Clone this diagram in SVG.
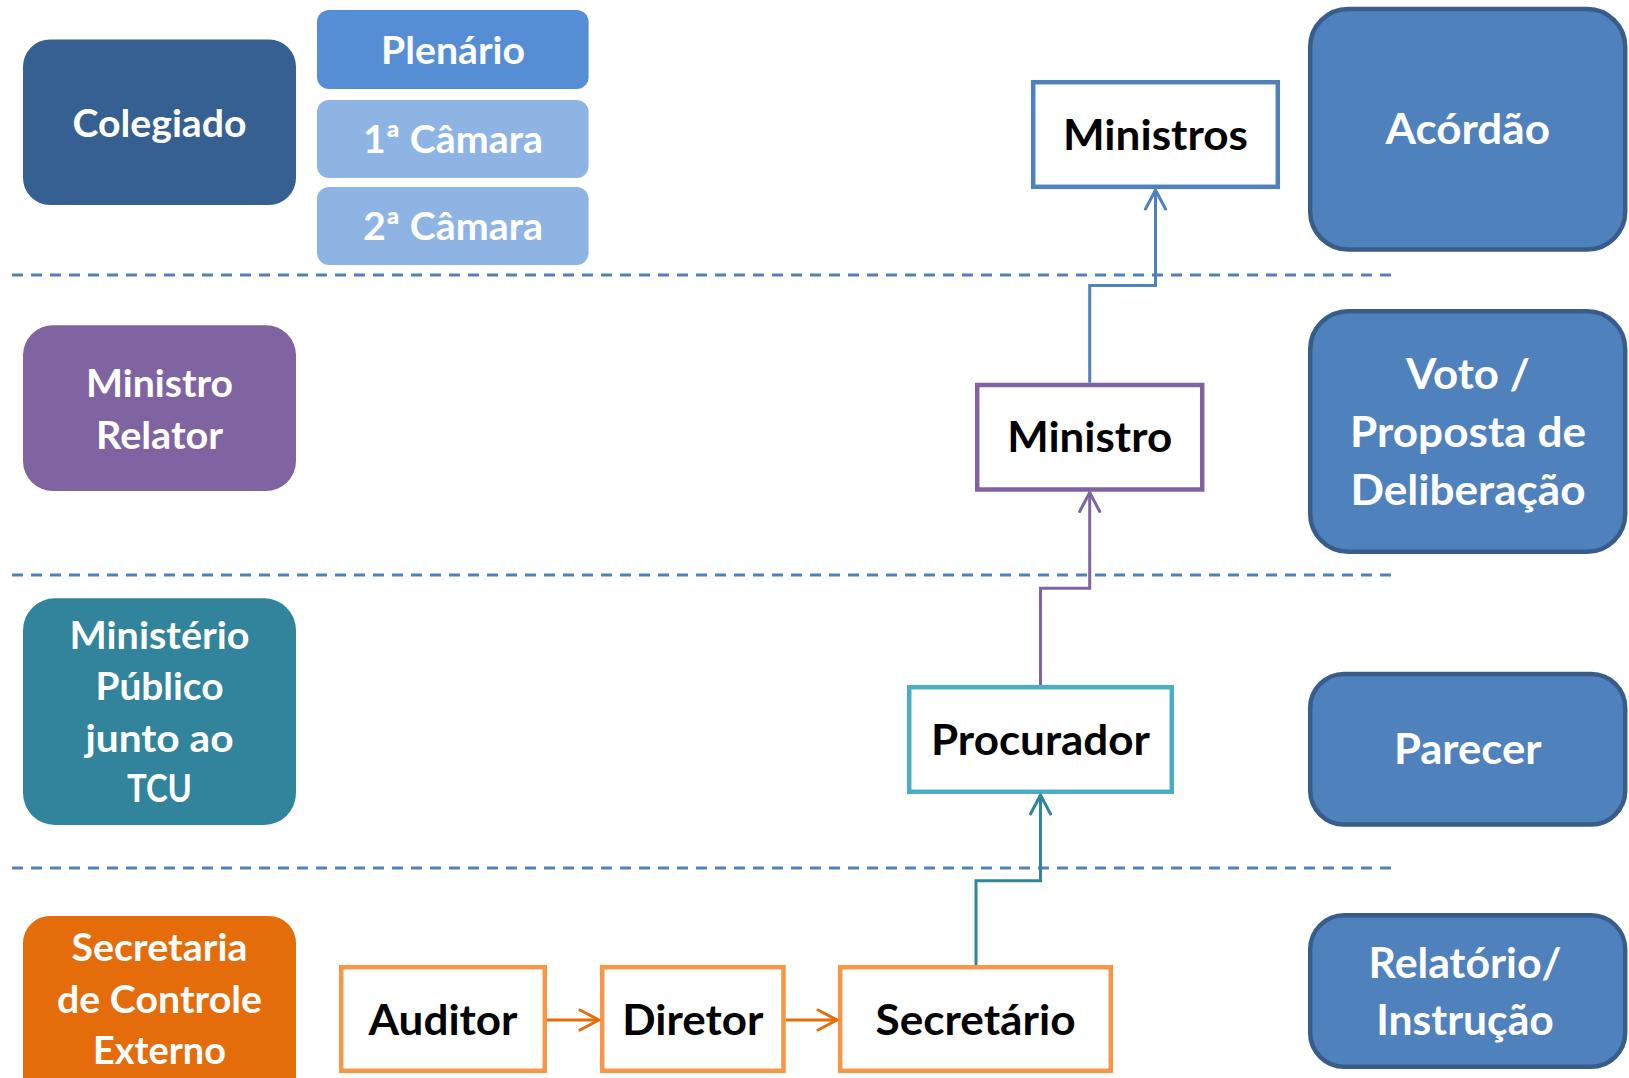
<svg xmlns="http://www.w3.org/2000/svg" width="1629" height="1078" viewBox="0 0 1629 1078">
<style>
text{font-family:Lato,"Open Sans","Liberation Sans",sans-serif;font-weight:700;text-anchor:middle}
.w{fill:#fff;font-size:38px}
.r{fill:#fff;font-size:42px}
.b{fill:#000;font-size:42px}
.box{fill:#fff;stroke-width:4.5}
.res{fill:#4F81BD;stroke:#385D8A;stroke-width:4.5}
.dash{stroke:#4F81BD;stroke-width:3;stroke-dasharray:11 8;fill:none}
.con{fill:none;stroke-width:3}
</style>
<defs>
<marker id="aO" markerUnits="userSpaceOnUse" markerWidth="24" markerHeight="24" viewBox="0 0 24 24" refX="21" refY="12" orient="auto"><path d="M2,2 L21,12 L2,22" fill="none" stroke="#E46C0A" stroke-width="3" stroke-linecap="round" stroke-linejoin="round"/></marker>
<marker id="aT" markerUnits="userSpaceOnUse" markerWidth="24" markerHeight="24" viewBox="0 0 24 24" refX="21" refY="12" orient="auto"><path d="M2,2 L21,12 L2,22" fill="none" stroke="#31849B" stroke-width="3" stroke-linecap="round" stroke-linejoin="round"/></marker>
<marker id="aP" markerUnits="userSpaceOnUse" markerWidth="24" markerHeight="24" viewBox="0 0 24 24" refX="21" refY="12" orient="auto"><path d="M2,2 L21,12 L2,22" fill="none" stroke="#8064A2" stroke-width="3" stroke-linecap="round" stroke-linejoin="round"/></marker>
<marker id="aB" markerUnits="userSpaceOnUse" markerWidth="24" markerHeight="24" viewBox="0 0 24 24" refX="21" refY="12" orient="auto"><path d="M2,2 L21,12 L2,22" fill="none" stroke="#4F81BD" stroke-width="3" stroke-linecap="round" stroke-linejoin="round"/></marker>
</defs>
<rect width="1629" height="1078" fill="#fff"/>
<g id="separators">
<line class="dash" x1="12" y1="275" x2="1395" y2="275"/>
<line class="dash" x1="12" y1="575" x2="1395" y2="575"/>
<line class="dash" x1="12" y1="868" x2="1395" y2="868"/>
</g>
<g id="colegiado"><rect x="23" y="39.5" width="273" height="165.5" rx="27" fill="#376092"/><text class="w" x="159.5" y="136.7" textLength="174" lengthAdjust="spacingAndGlyphs">Colegiado</text></g>
<g id="plenario"><rect x="317" y="10" width="271.6" height="79" rx="12" fill="#558ED5"/><text class="w" x="453" y="64" textLength="144" lengthAdjust="spacingAndGlyphs">Plenário</text></g>
<g id="camara1"><rect x="317" y="100" width="271.6" height="78" rx="12" fill="#8EB4E3"/><text class="w" x="453" y="152.7" textLength="180" lengthAdjust="spacingAndGlyphs">1ª Câmara</text></g>
<g id="camara2"><rect x="317" y="187" width="271.6" height="78" rx="12" fill="#8EB4E3"/><text class="w" x="453" y="240" textLength="180" lengthAdjust="spacingAndGlyphs">2ª Câmara</text></g>
<g id="ministro-relator"><rect x="23" y="325.3" width="273" height="165.7" rx="30" fill="#8064A2"/><text class="w" x="159.5" y="396.7" textLength="147" lengthAdjust="spacingAndGlyphs">Ministro</text><text class="w" x="159.5" y="449" textLength="127" lengthAdjust="spacingAndGlyphs">Relator</text></g>
<g id="ministerio-publico"><rect x="23" y="598.3" width="273" height="226.7" rx="32" fill="#31849B"/><text class="w" x="159.5" y="649" textLength="180" lengthAdjust="spacingAndGlyphs">Ministério</text><text class="w" x="159.5" y="700" textLength="128" lengthAdjust="spacingAndGlyphs">Público</text><text class="w" x="159.5" y="751.7" textLength="148" lengthAdjust="spacingAndGlyphs">junto ao</text><text class="w" x="159.5" y="802" textLength="65" lengthAdjust="spacingAndGlyphs">TCU</text></g>
<g id="secretaria"><rect x="23" y="916" width="273" height="200" rx="27" fill="#E46C0A"/><text class="w" x="159.5" y="961" textLength="176" lengthAdjust="spacingAndGlyphs">Secretaria</text><text class="w" x="159.5" y="1013" textLength="205" lengthAdjust="spacingAndGlyphs">de Controle</text><text class="w" x="159.5" y="1064" textLength="133" lengthAdjust="spacingAndGlyphs">Externo</text></g>
<g id="ministros"><rect class="box" x="1033.2" y="82.2" width="244.6" height="104.6" stroke="#4F81BD"/><text class="b" x="1155.5" y="150" textLength="185" lengthAdjust="spacingAndGlyphs">Ministros</text></g>
<g id="ministro"><rect class="box" x="977.2" y="385" width="225" height="104.5" stroke="#8064A2"/><text class="b" x="1089.7" y="451.7" textLength="165" lengthAdjust="spacingAndGlyphs">Ministro</text></g>
<g id="procurador"><rect class="box" x="909.2" y="687.2" width="262.6" height="104.6" stroke="#4BACC6"/><text class="b" x="1040.5" y="755" textLength="219" lengthAdjust="spacingAndGlyphs">Procurador</text></g>
<g id="auditor"><rect class="box" x="341.2" y="967.2" width="203.6" height="103.6" stroke="#F79646"/><text class="b" x="443" y="1035" textLength="149" lengthAdjust="spacingAndGlyphs">Auditor</text></g>
<g id="diretor"><rect class="box" x="602.2" y="967.2" width="181.3" height="103.6" stroke="#F79646"/><text class="b" x="692.8" y="1035" textLength="141" lengthAdjust="spacingAndGlyphs">Diretor</text></g>
<g id="secretario"><rect class="box" x="840.2" y="967.2" width="270.6" height="103.6" stroke="#F79646"/><text class="b" x="975.5" y="1035" textLength="200" lengthAdjust="spacingAndGlyphs">Secretário</text></g>
<g id="acordao"><rect class="res" x="1310.2" y="9" width="315" height="240.5" rx="38"/><text class="r" x="1467.7" y="144" textLength="164.5" lengthAdjust="spacingAndGlyphs">Acórdão</text></g>
<g id="voto"><rect class="res" x="1310.2" y="311.3" width="315" height="240.5" rx="38"/><text class="r" x="1468" y="389" textLength="124" lengthAdjust="spacingAndGlyphs">Voto /</text><text class="r" x="1468" y="446.7" textLength="236" lengthAdjust="spacingAndGlyphs">Proposta de</text><text class="r" x="1468" y="505" textLength="235" lengthAdjust="spacingAndGlyphs">Deliberação</text></g>
<g id="parecer"><rect class="res" x="1310.2" y="674" width="315" height="150.5" rx="34"/><text class="r" x="1467.7" y="764" textLength="147.5" lengthAdjust="spacingAndGlyphs">Parecer</text></g>
<g id="relatorio"><rect class="res" x="1310.2" y="915.3" width="315" height="151.5" rx="34"/><text class="r" x="1465" y="978" textLength="193" lengthAdjust="spacingAndGlyphs">Relatório/</text><text class="r" x="1465" y="1035" textLength="177.6" lengthAdjust="spacingAndGlyphs">Instrução</text></g>
<g id="connectors">
<path class="con" stroke="#E46C0A" d="M547 1020 H599" marker-end="url(#aO)"/>
<path class="con" stroke="#E46C0A" d="M786 1020 H837" marker-end="url(#aO)"/>
<path class="con" stroke="#31849B" d="M976 965 V880.7 H1040.5 V795" marker-end="url(#aT)"/>
<path class="con" stroke="#8064A2" d="M1040.5 685 V588.3 H1089.7 V492.5" marker-end="url(#aP)"/>
<path class="con" stroke="#4F81BD" d="M1089.7 382.7 V285.5 H1155.5 V190" marker-end="url(#aB)"/>
</g>
</svg>
